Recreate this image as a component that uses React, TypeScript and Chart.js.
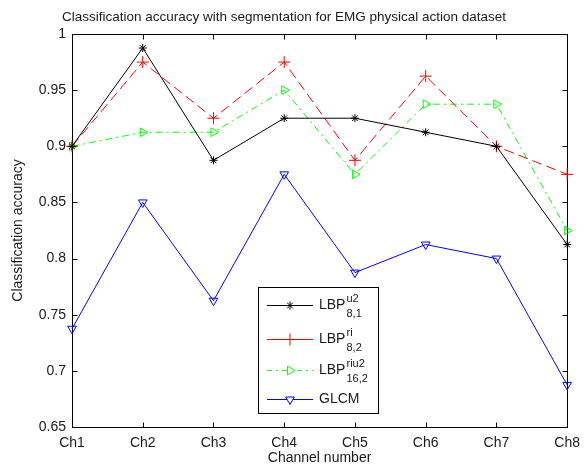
import React, { useEffect, useRef } from 'react';
import { Chart, registerables } from 'chart.js';
import { drawPoint } from 'chart.js/helpers';
Chart.register(...registerables);

const channels = ['Ch1', 'Ch2', 'Ch3', 'Ch4', 'Ch5', 'Ch6', 'Ch7', 'Ch8'];
const lbpU2 = [0.9, 0.9875, 0.8875, 0.925, 0.925, 0.9125, 0.9, 0.8125];
const lbpRi = [0.9, 0.975, 0.925, 0.975, 0.8875, 0.9625, 0.9, 0.875];
const lbpRiu2 = [0.9, 0.9125, 0.9125, 0.95, 0.875, 0.9375, 0.9375, 0.825];
const glcm = [0.7375, 0.85, 0.7625, 0.875, 0.7875, 0.8125, 0.8, 0.6875];
const yMin = 0.65;
const yMax = 1;
const yStep = 0.05;

const titleText = 'Classification accuracy with segmentation for EMG physical action dataset';
const xTitle = 'Channel number';
const yTitle = 'Classification accuracy';

const FONT = '"Liberation Sans", Arial, sans-serif';
const TXT = '#1a1a1a';

type Entry = { base: string; sup: string; sub: string; color: string; dash: number[]; style: string; radius: number; rotation: number };
const legendEntries: Entry[] = [
  { base: 'LBP', sup: 'u2', sub: '8,1', color: '#000000', dash: [], style: 'star', radius: 4, rotation: 0 },
  { base: 'LBP', sup: 'ri', sub: '8,2', color: '#ff0000', dash: [], style: 'cross', radius: 6, rotation: 0 },
  { base: 'LBP', sup: 'riu2', sub: '16,2', color: '#00ff00', dash: [5, 4, 2, 4], style: 'triangle', radius: 5, rotation: 90 },
  { base: 'GLCM', sup: '', sub: '', color: '#0000ff', dash: [], style: 'triangle', radius: 5, rotation: 180 },
];

const framePlugin = {
  id: 'frame',
  beforeDatasetsDraw(chart: any) {
    const { ctx, chartArea: a, scales } = chart;
    ctx.save();
    ctx.strokeStyle = '#000';
    ctx.lineWidth = 1;
    const L = Math.round(a.left) + 0.5, R = Math.round(a.right) + 0.5, T = Math.round(a.top) + 0.5, B = Math.round(a.bottom) + 0.5;
    ctx.strokeRect(L, T, R - L, B - T);
    const tl = 5;
    ctx.beginPath();
    scales.x.ticks.forEach((_t: any, i: number) => {
      const x = Math.round(scales.x.getPixelForTick(i)) + 0.5;
      ctx.moveTo(x, B); ctx.lineTo(x, B - tl);
      ctx.moveTo(x, T); ctx.lineTo(x, T + tl);
    });
    scales.y.ticks.forEach((t: any) => {
      const y = Math.round(scales.y.getPixelForValue(t.value)) + 0.5;
      ctx.moveTo(L, y); ctx.lineTo(L + tl, y);
      ctx.moveTo(R, y); ctx.lineTo(R - tl, y);
    });
    ctx.stroke();
    ctx.restore();
  },
  afterDraw(chart: any) {
    const { ctx, chartArea: a } = chart;
    ctx.save();
    ctx.fillStyle = TXT;
    ctx.textBaseline = 'middle';
    ctx.textAlign = 'center';
    ctx.font = `13.5px ${FONT}`;
    ctx.fillText(titleText, 284, 17);
    ctx.font = `14px ${FONT}`;
    ctx.fillText(xTitle, (a.left + a.right) / 2, 458);
    ctx.translate(18, (a.top + a.bottom) / 2);
    ctx.rotate(-Math.PI / 2);
    ctx.fillText(yTitle, 0, 0);
    ctx.restore();

    // legend
    ctx.save();
    const bx = 258.5, by = 287.5, bw = 120, bh = 126;
    ctx.fillStyle = '#fff';
    ctx.fillRect(bx, by, bw, bh);
    ctx.strokeStyle = '#000';
    ctx.lineWidth = 1;
    ctx.strokeRect(bx, by, bw, bh);
    const ys = [305, 339, 370, 399];
    legendEntries.forEach((e, i) => {
      const y = ys[i];
      ctx.strokeStyle = e.color;
      ctx.lineWidth = 1;
      ctx.setLineDash(e.dash);
      ctx.beginPath();
      ctx.moveTo(267, y + 0.5);
      ctx.lineTo(313, y + 0.5);
      ctx.stroke();
      ctx.setLineDash([]);
      ctx.fillStyle = '#fff';
      drawPoint(ctx, { pointStyle: e.style, radius: e.radius, rotation: e.rotation, borderWidth: 1 } as any, 290, y + 0.5);
      ctx.fillStyle = TXT;
      ctx.textAlign = 'left';
      ctx.textBaseline = 'middle';
      ctx.font = `14px ${FONT}`;
      ctx.fillText(e.base, 319, y);
      const w = ctx.measureText(e.base).width;
      if (e.sup) {
        ctx.font = `11px ${FONT}`;
        ctx.fillText(e.sup, 319 + w + 1, y - 6);
        ctx.fillText(e.sub, 319 + w + 1, y + 9);
      }
    });
    ctx.restore();
  },
};

function ds(label: string, data: number[], color: string, dash: number[], style: string, radius: number, rotation: number) {
  return {
    label,
    data,
    borderColor: color,
    backgroundColor: 'rgba(0,0,0,0)',
    borderWidth: 1,
    borderDash: dash,
    pointStyle: style,
    pointRadius: radius,
    pointRotation: rotation,
    pointBorderColor: color,
    pointBackgroundColor: 'rgba(0,0,0,0)',
    pointBorderWidth: 1,
    tension: 0,
    fill: false,
  };
}

export default function App() {
  const ref = useRef<HTMLCanvasElement>(null);
  useEffect(() => {
    if (!ref.current) return;
    const chart = new Chart(ref.current, {
      type: 'line',
      data: {
        labels: channels,
        datasets: [
          ds('LBP u2 8,1', lbpU2, '#000000', [], 'star', 4, 0),
          ds('LBP ri 8,2', lbpRi, '#ff0000', [10, 5], 'cross', 6, 0),
          ds('LBP riu2 16,2', lbpRiu2, '#00ff00', [7, 4, 2, 4], 'triangle', 5, 90),
          ds('GLCM', glcm, '#0000ff', [], 'triangle', 5, 180),
        ],
      },
      options: {
        animation: false,
        responsive: false,
        devicePixelRatio: 1,
        layout: { padding: { top: 34, right: 17, left: 0, bottom: 0 } },
        plugins: { legend: { display: false }, title: { display: false }, tooltip: { enabled: false } },
        scales: {
          x: {
            type: 'category',
            offset: false,
            grid: { display: false, drawTicks: false },
            border: { display: false },
            ticks: { color: TXT, font: { family: FONT, size: 14 }, padding: 8, maxRotation: 0, autoSkip: false },
            afterFit: (s: any) => { s.height = 41; },
          },
          y: {
            min: yMin,
            max: yMax,
            grid: { display: false, drawTicks: false },
            border: { display: false },
            ticks: {
              stepSize: yStep,
              color: TXT,
              font: { family: FONT, size: 14 },
              padding: 6,
              callback: (v: any) => String(Number(Number(v).toFixed(2))),
            },
            afterFit: (s: any) => { s.width = 72; },
          },
        },
      },
      plugins: [framePlugin],
    } as any);
    return () => chart.destroy();
  }, []);
  return (
    <div style={{ position: 'absolute', left: 0, top: 0, width: 588, height: 468, background: '#fff' }}>
      <canvas ref={ref} width={588} height={468} />
    </div>
  );
}
